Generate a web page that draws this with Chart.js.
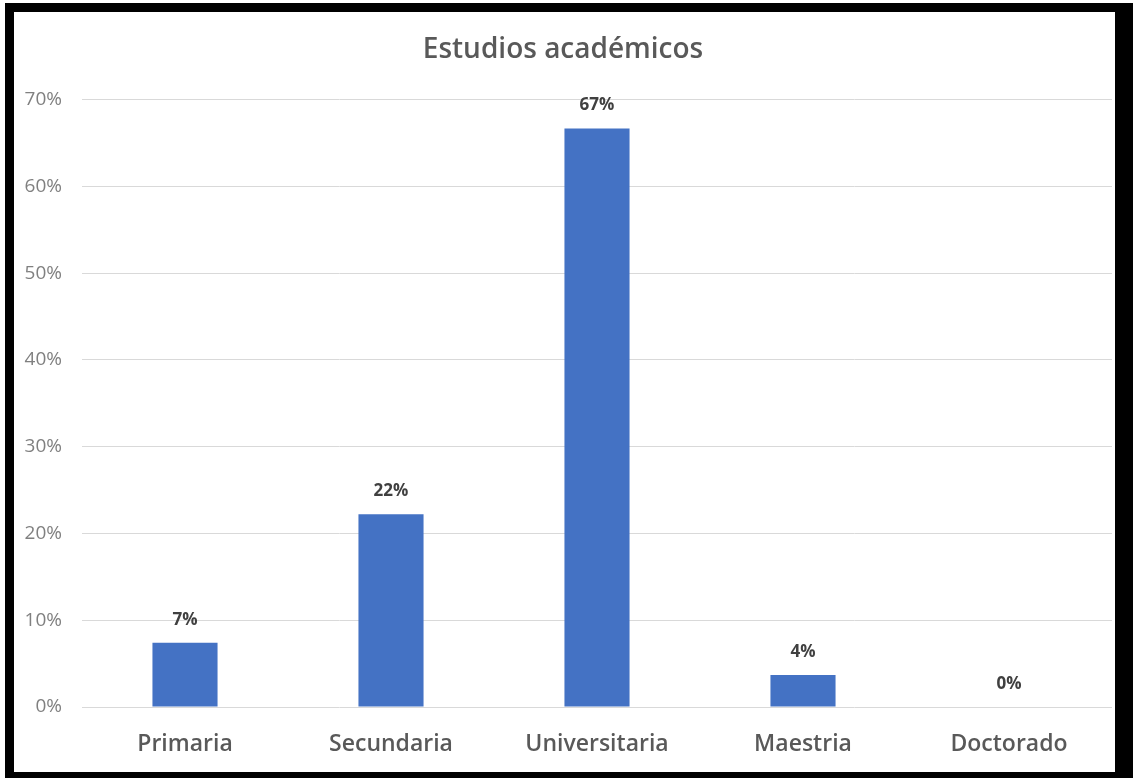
<!DOCTYPE html>
<html lang="es">
<head>
  <meta charset="UTF-8">
  <title>Estudios académicos</title>
  <script src="https://cdn.jsdelivr.net/npm/chart.js"></script>
  <style>
    body {
      margin: 0;
      background: #ffffff;
      width: 1133px;
      height: 778px;
      overflow: hidden;
      position: relative;
    }
    .frame {
      position: absolute;
      left: 5px;
      top: 3px;
      width: 1128px;
      height: 775px;
      background: #000000;
    }
    .box {
      position: absolute;
      left: 14px;
      top: 12px;
      width: 1101px;
      height: 760px;
      background: #ffffff;
    }
  </style>
</head>
<body>
  <div class="frame"></div>
  <div class="box">
    <canvas id="chart" width="1101" height="760"></canvas>
  </div>

  <script>
    const categories = ['Primaria', 'Secundaria', 'Universitaria', 'Maestria', 'Doctorado'];
    const values = [7.41, 22.22, 66.67, 3.70, 0];
    const yTicks = [0, 10, 20, 30, 40, 50, 60, 70];

    const fontFamily = "'Open Sans', 'DejaVu Sans', sans-serif";

    // percentage labels above each bar
    const barLabels = {
      id: 'barLabels',
      afterDatasetsDraw(chart) {
        const ctx = chart.ctx;
        const meta = chart.getDatasetMeta(0);
        ctx.save();
        ctx.font = 'bold 17px ' + fontFamily;
        ctx.fillStyle = '#404040';
        ctx.textAlign = 'center';
        ctx.textBaseline = 'middle';
        meta.data.forEach((bar, i) => {
          ctx.fillText(Math.round(values[i]) + '%', bar.x, bar.y - 23);
        });
        ctx.restore();
      }
    };

    new Chart(document.getElementById('chart'), {
      type: 'bar',
      data: {
        labels: categories,
        datasets: [{
          data: values,
          backgroundColor: '#4472C4',
          borderWidth: 0,
          categoryPercentage: 1,
          barPercentage: 0.316
        }]
      },
      options: {
        responsive: false,
        animation: false,
        events: [],
        layout: { padding: { left: 0, right: 3, top: 0, bottom: 0 } },
        plugins: {
          legend: { display: false },
          tooltip: { enabled: false },
          title: {
            display: true,
            text: 'Estudios académicos',
            color: '#595959',
            font: { family: fontFamily, size: 28, weight: '600', lineHeight: 1.2 },
            padding: { top: 21, bottom: 33 }
          }
        },
        scales: {
          x: {
            grid: { display: false, drawTicks: false },
            border: { display: false },
            ticks: {
              color: '#595959',
              padding: 24,
              font: { family: fontFamily, size: 23, weight: '600' }
            },
            afterFit(scale) { scale.height = 65; }
          },
          y: {
            min: 0,
            max: 70,
            grid: { color: '#d9d9d9', lineWidth: 1, drawTicks: false },
            border: { display: false },
            afterBuildTicks(scale) {
              scale.ticks = yTicks.map(v => ({ value: v }));
            },
            ticks: {
              color: '#808080',
              padding: 20,
              font: { family: fontFamily, size: 19 },
              callback: v => v + '%'
            },
            afterFit(scale) { scale.width = 68; }
          }
        }
      },
      plugins: [barLabels]
    });
  </script>
</body>
</html>
